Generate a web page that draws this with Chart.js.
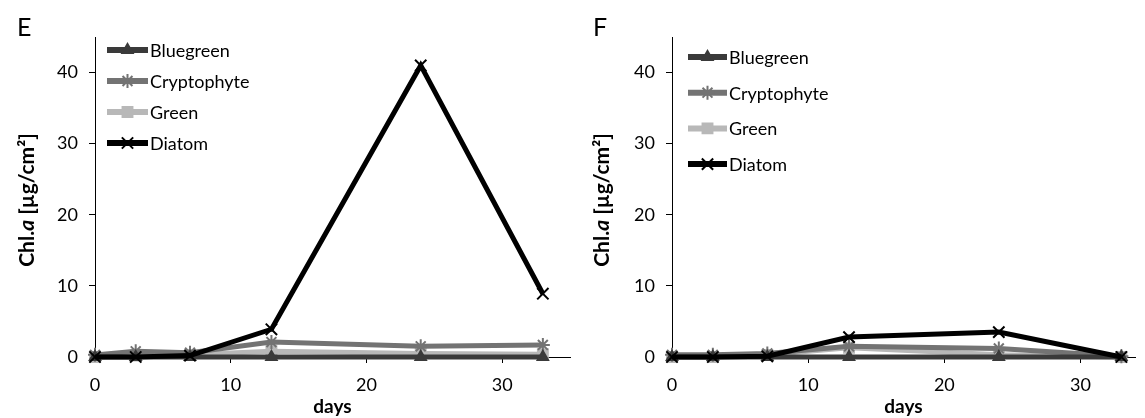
<!DOCTYPE html>
<html>
<head>
<meta charset="utf-8">
<script src="https://cdn.jsdelivr.net/npm/chart.js@4/dist/chart.umd.min.js"></script>
<style>
  body { margin: 0; background: #fff; width: 1145px; height: 418px; overflow: hidden; position: relative; font-family: Lato, sans-serif; }
  .panel { position: absolute; top: 0; height: 418px; }
  .letter { position: absolute; font-size: 25px; color: #000; }
  .ytitle { position: absolute; font-weight: bold; font-size: 21px; color: #000; white-space: nowrap;
            transform: translate(-50%, -50%) rotate(-90deg); }
</style>
</head>
<body>
<div class="panel" style="left:0;width:580px"><canvas id="chartE" width="580" height="418"></canvas></div>
<div class="panel" style="left:580px;width:565px"><canvas id="chartF" width="565" height="418"></canvas></div>
<div class="letter" style="left:17px;top:11px">E</div>
<div class="letter" style="left:593px;top:11px">F</div>
<div class="ytitle" style="left:25px;top:200px">Chl.<i>a</i> [µg/cm²]</div>
<div class="ytitle" style="left:600px;top:200px">Chl.<i>a</i> [µg/cm²]</div>
<script>
const days = [0, 3, 7, 13, 24, 33];
const seriesNames = ['Bluegreen', 'Cryptophyte', 'Green', 'Diatom'];

// panel E
const bluegreenE = [0, 0, 0, 0, 0, 0];
const cryptoE = [0.3, 0.8, 0.6, 2.1, 1.5, 1.7];
const greenE = [0, 0.2, 0.3, 0.8, 0.5, 0.4];
const diatomE = [0, 0, 0.2, 3.9, 41, 8.9];

// panel F
const bluegreenF = [0, 0, 0, 0, 0, 0];
const cryptoF = [0.3, 0.3, 0.5, 1.5, 1.2, 0.1];
const greenF = [0, 0, 0.3, 1.3, 0.3, 0];
const diatomF = [0, 0, 0.1, 2.8, 3.5, 0];

const yTicks = [0, 10, 20, 30, 40];
const xTicks = [0, 10, 20, 30];

Chart.defaults.font.family = 'Lato, sans-serif';
Chart.defaults.color = '#000';

const styles = [
  { color: '#3a3a3a', point: 'triangle', radius: 6, width: 5, order: 1 },
  { color: '#737373', point: 'star', radius: 7, width: 5, order: 2 },
  { color: '#b8b8b8', point: 'rect', radius: 7, width: 5, order: 3 },
  { color: '#000000', point: 'crossRot', radius: 8, width: 5, order: 0 }
];

const toPoints = vals => days.map((d, i) => ({ x: d, y: vals[i] }));

// legend drawn inside the plot area, like the original figure
const innerLegend = {
  id: 'innerLegend',
  afterDraw(chart, args, opts) {
    const ctx = chart.ctx;
    ctx.save();
    chart.data.datasets.forEach((ds, i) => {
      const y = opts.y0 + i * opts.dy;
      ctx.strokeStyle = ds.borderColor;
      ctx.lineWidth = 6;
      ctx.beginPath();
      ctx.moveTo(opts.x1, y);
      ctx.lineTo(opts.x2, y);
      ctx.stroke();
      ctx.fillStyle = ds.pointBackgroundColor;
      ctx.strokeStyle = ds.pointBorderColor;
      ctx.lineWidth = ds.pointBorderWidth;
      Chart.helpers.drawPoint(ctx, { pointStyle: ds.pointStyle, radius: ds.pointRadius, borderWidth: ds.pointBorderWidth, rotation: 0 }, (opts.x1 + opts.x2) / 2, y);
      ctx.fillStyle = '#000';
      ctx.font = '18px Lato, sans-serif';
      ctx.textBaseline = 'middle';
      ctx.textAlign = 'left';
      ctx.fillText(ds.label, opts.x2 + 2, y + 1);
    });
    ctx.restore();
  }
};

function makeChart(id, values, xMax, padRight, legendPos) {
  const datasets = values.map((vals, i) => ({
    label: seriesNames[i],
    data: toPoints(vals),
    borderColor: styles[i].color,
    borderWidth: styles[i].width,
    pointStyle: styles[i].point,
    pointRadius: styles[i].radius,
    pointBackgroundColor: styles[i].color,
    pointBorderColor: styles[i].color,
    pointBorderWidth: 2,
    order: styles[i].order,
    clip: false,
    tension: 0
  }));

  return new Chart(document.getElementById(id), {
    type: 'line',
    data: { datasets },
    plugins: [innerLegend],
    options: {
      responsive: false,
      animation: false,
      layout: { padding: { top: 37, left: 0, right: padRight, bottom: 0 } },
      plugins: {
        legend: { display: false },
        tooltip: { enabled: false },
        innerLegend: legendPos
      },
      scales: {
        x: {
          type: 'linear',
          min: 0,
          max: xMax,
          afterBuildTicks: s => { s.ticks = xTicks.map(v => ({ value: v })); },
          afterFit: s => { s.height = 61; },
          ticks: { font: { size: 18 }, padding: 11, maxRotation: 0 },
          grid: { drawOnChartArea: false, color: '#000', tickLength: 6 },
          border: { color: '#000', width: 1 },
          title: { display: true, text: 'days', font: { size: 19, weight: 'bold' }, padding: { top: 0, bottom: 0 } }
        },
        y: {
          min: 0,
          max: 45,
          afterBuildTicks: s => { s.ticks = yTicks.map(v => ({ value: v })); },
          afterFit: s => { s.width = id === 'chartE' ? 95 : 92; },
          ticks: { font: { size: 18 }, padding: 11 },
          grid: { drawOnChartArea: false, color: '#000', tickLength: 6 },
          border: { color: '#000', width: 1 }
        }
      }
    }
  });
}

makeChart('chartE', [bluegreenE, cryptoE, greenE, diatomE], 35, 8,
  { x1: 107, x2: 148, y0: 50, dy: 31 });
makeChart('chartF', [bluegreenF, cryptoF, greenF, diatomF], 34, 9,
  { x1: 108, x2: 147, y0: 57, dy: 35.7 });
</script>
</body>
</html>
